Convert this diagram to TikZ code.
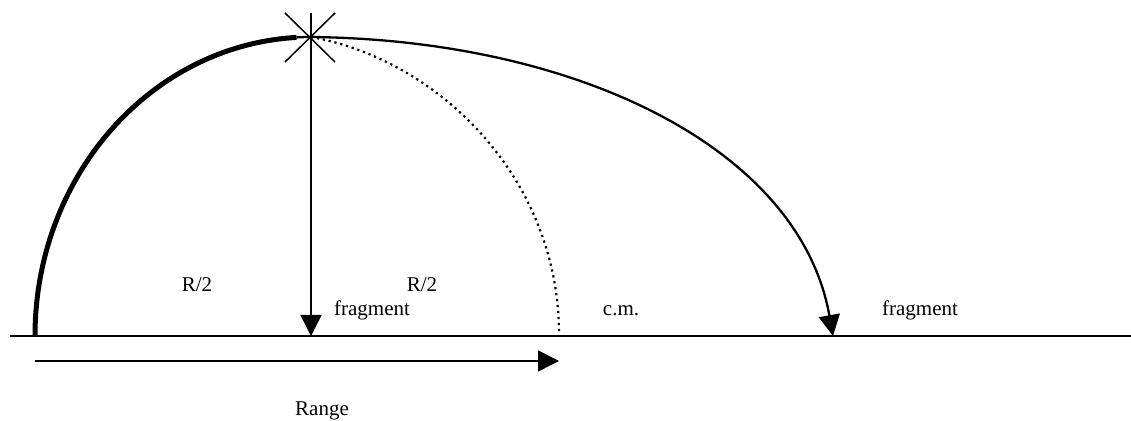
\documentclass[tikz,border=0pt]{standalone}
\usepackage{fontspec}
\setmainfont{Liberation Serif}
\usetikzlibrary{arrows.meta}
\begin{document}
\begin{tikzpicture}[x=1pt,y=1pt,
  lbl/.style={anchor=base,inner sep=0pt,font=\fontsize{21}{25}\selectfont},
  thinline/.style={line width=1.5pt},
  pathline/.style={line width=2.3pt},
  heavy/.style={line width=5pt},
  dotline/.style={line width=2.2pt,dash pattern=on 2.2pt off 3.8pt},
  tip/.style={-{Triangle[length=21pt,width=21pt]}}]
\useasboundingbox (0,0) rectangle (1131,420);
% key points
\coordinate (burst) at (311,383);
\coordinate (gl) at (10,84);
\coordinate (gr) at (1131,84);
\coordinate (launch) at (35,84);
\coordinate (foot) at (311,84);
\coordinate (cm) at (559,84);
\coordinate (land) at (833,84);
\coordinate (rs) at (35,59);
\coordinate (re) at (559,59);
\coordinate (s1) at (285,407);
\coordinate (s2) at (335,358);
\coordinate (s3) at (335,407);
\coordinate (s4) at (285,358);
\coordinate (stop) at (311,407);
% ground
\draw[thinline] (gl) -- (gr);
% range arrow
\draw[thinline,tip] (rs) -- (re);
% thick ascending arc
\draw[heavy] (launch) arc[start angle=180,end angle=93,x radius=276,y radius=299] coordinate (thickend);
\draw[pathline] (thickend) arc[start angle=93,end angle=90,x radius=276,y radius=299];
% burst star
\draw[thinline] (s1) -- (s2);
\draw[thinline] (s3) -- (s4);
\draw[thinline] (stop) -- (burst);
% fragment falling straight down
\draw[thinline,tip] (burst) -- (foot);
% dotted centre of mass path
\draw[dotline] (burst) .. controls (440,360) and (560,240) .. (cm);
% far fragment trajectory
\draw[pathline,tip] (burst) .. controls (580,380) and (800,270) .. (land);
% labels
\node[lbl] (r1) at (197,128) {R/2};
\node[lbl] (r2) at (422,128) {R/2};
\node[lbl] (f1) at (372,104) {fragment};
\node[lbl] (cmlbl) at (621,104) {c.m.};
\node[lbl] (f2) at (920,104) {fragment};
\node[lbl] (rng) at (322,5) {Range};
\end{tikzpicture}
\end{document}
